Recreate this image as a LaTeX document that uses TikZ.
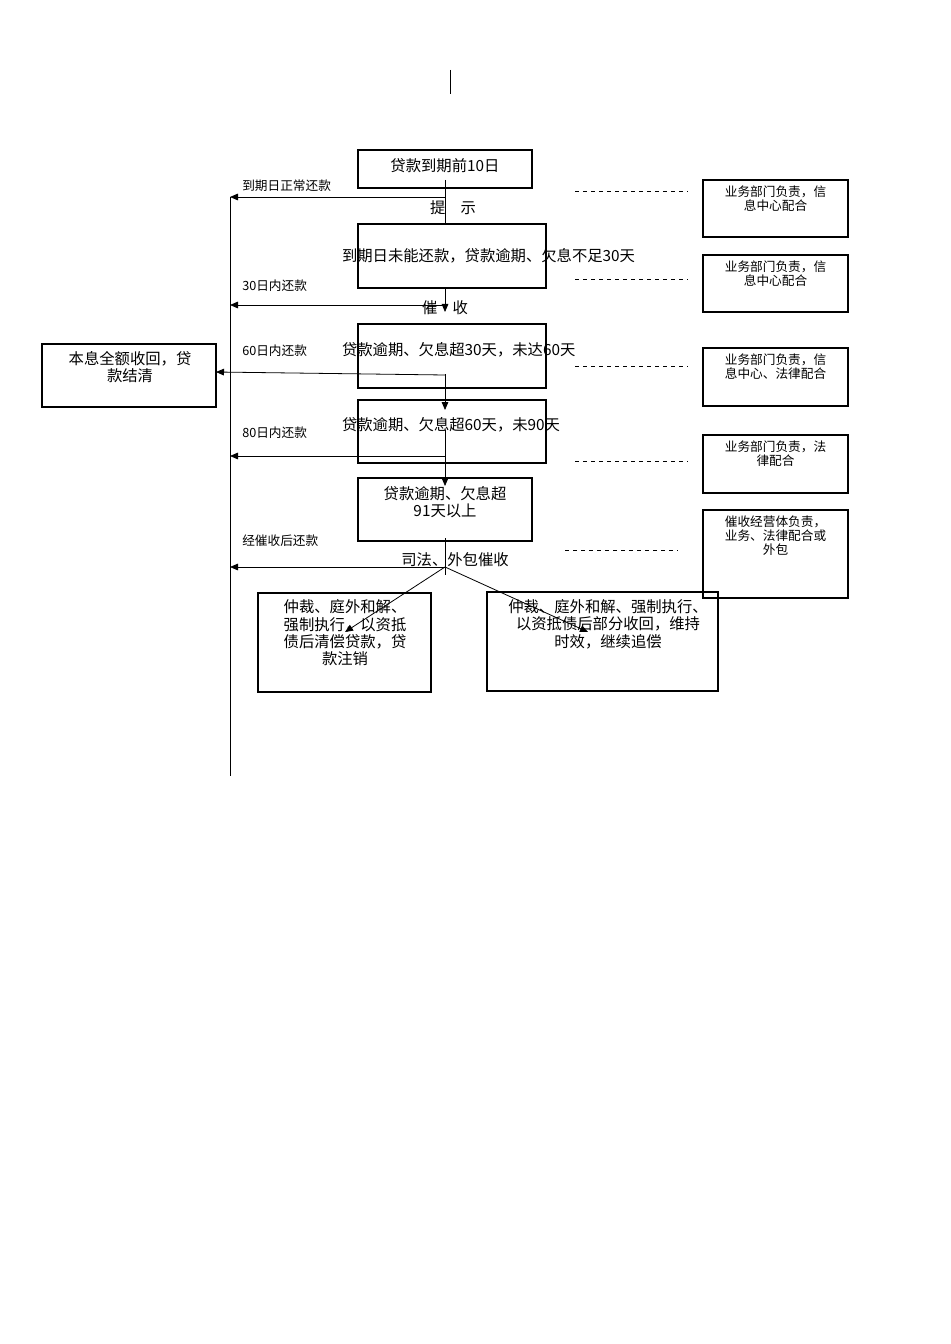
\documentclass[tikz,border=0pt]{standalone}
\usepackage{fontspec}
\setmainfont{Noto Sans CJK SC}
\usetikzlibrary{arrows.meta}
\begin{document}
\begin{tikzpicture}[x=0.75pt,y=-0.75pt,
 box/.style={draw,line width=0.8pt,inner sep=0pt},
 txt/.style={font=\fontsize{11.5}{13}\selectfont,align=center,inner sep=0pt},
 sm/.style={font=\fontsize{9.5}{10.5}\selectfont,align=center,inner sep=0pt},
 ar/.style={-{Triangle[length=6pt,width=5pt]},line width=0.6pt},
 ln/.style={line width=0.6pt},
 dsh/.style={dashed,line width=0.6pt}]
\useasboundingbox (0,0) rectangle (950,1344);
\draw[ln] (450,70) -- (450,94);
\draw[box] (358,150) rectangle (532,188);
\node[txt] (b1) at (445,166) {贷款到期前10日};
\draw[box] (358,224) rectangle (546,288);
\node[txt,text width=165pt,align=justify] (b2) at (452,256) {到期日未能还款，贷款逾期、欠息不足30天};
\draw[box] (358,324) rectangle (546,388);
\node[txt,text width=165pt,align=left] (b3) at (452,350) {贷款逾期、欠息超30天，未达60天};
\draw[box] (358,400) rectangle (546,463);
\node[txt,text width=165pt,align=left] (b4) at (452,425) {贷款逾期、欠息超60天，未90天};
\draw[box] (358,478) rectangle (532,541);
\node[txt] (b5) at (445,502) {贷款逾期、欠息超\\91天以上};
\draw[box] (42,344) rectangle (216,407);
\node[txt] (lb) at (130,367) {本息全额收回，贷\\款结清};
\draw[box] (258,593) rectangle (431,692);
\node[txt] (bl) at (345,633) {仲裁、庭外和解、\\强制执行，以资抵\\债后清偿贷款，贷\\款注销};
\draw[box] (487,592) rectangle (718,691);
\node[txt] (br) at (608,624) {仲裁、庭外和解、强制执行、\\以资抵债后部分收回，维持\\时效，继续追偿};
\foreach \y/\yy/\t in {180/237/{业务部门负责，信\\息中心配合},255/312/{业务部门负责，信\\息中心配合},348/406/{业务部门负责，信\\息中心、法律配合},435/493/{业务部门负责，法\\律配合}}{
 \draw[box] (703,\y) rectangle (848,\yy);
 \node[sm,anchor=north] at (775.5,\y+6) {\t};}
\draw[box] (703,510) rectangle (848,598);
\node[sm,anchor=north] (r5) at (775.5,516) {催收经营体负责，\\业务、法律配合或\\外包};
\foreach \y in {191,279,366,461} \draw[dsh] (575,\y) -- (688,\y);
\draw[dsh] (565,550) -- (678,550);
% labels
\node[txt] (l1) at (453,208) {提\quad 示};
\node[txt] (l2) at (445,308) {催\quad 收};
\node[txt] (l3) at (455,560) {司法、外包催收};
\node[sm,anchor=west] at (242,186) {到期日正常还款};
\node[sm,anchor=west] at (242,286) {30日内还款};
\node[sm,anchor=west] at (242,351) {60日内还款};
\node[sm,anchor=west] at (242,433) {80日内还款};
\node[sm,anchor=west] at (242,541) {经催收后还款};
% main lines
\coordinate (t) at (445,180);
\draw[ln] (t) -- (445,224);
\draw[ar] (445,288) -- (445,312);
\draw[ar] (445,374) -- (445,410);
\draw[ar] (445,430) -- (445,486);
\draw[ln] (445,538) -- (445,575);
\draw[ln] (230,197) -- (230,776);
\draw[ar] (445,197) -- (230,197);
\draw[ar] (445,305) -- (230,305);
\draw[ar] (445,375) -- (216,372);
\draw[ar] (445,456) -- (230,456);
\draw[ar] (445,567) -- (230,567);
\draw[ar] (445,567) -- (345,632);
\draw[ar] (445,567) -- (588,632);
\end{tikzpicture}
\end{document}
